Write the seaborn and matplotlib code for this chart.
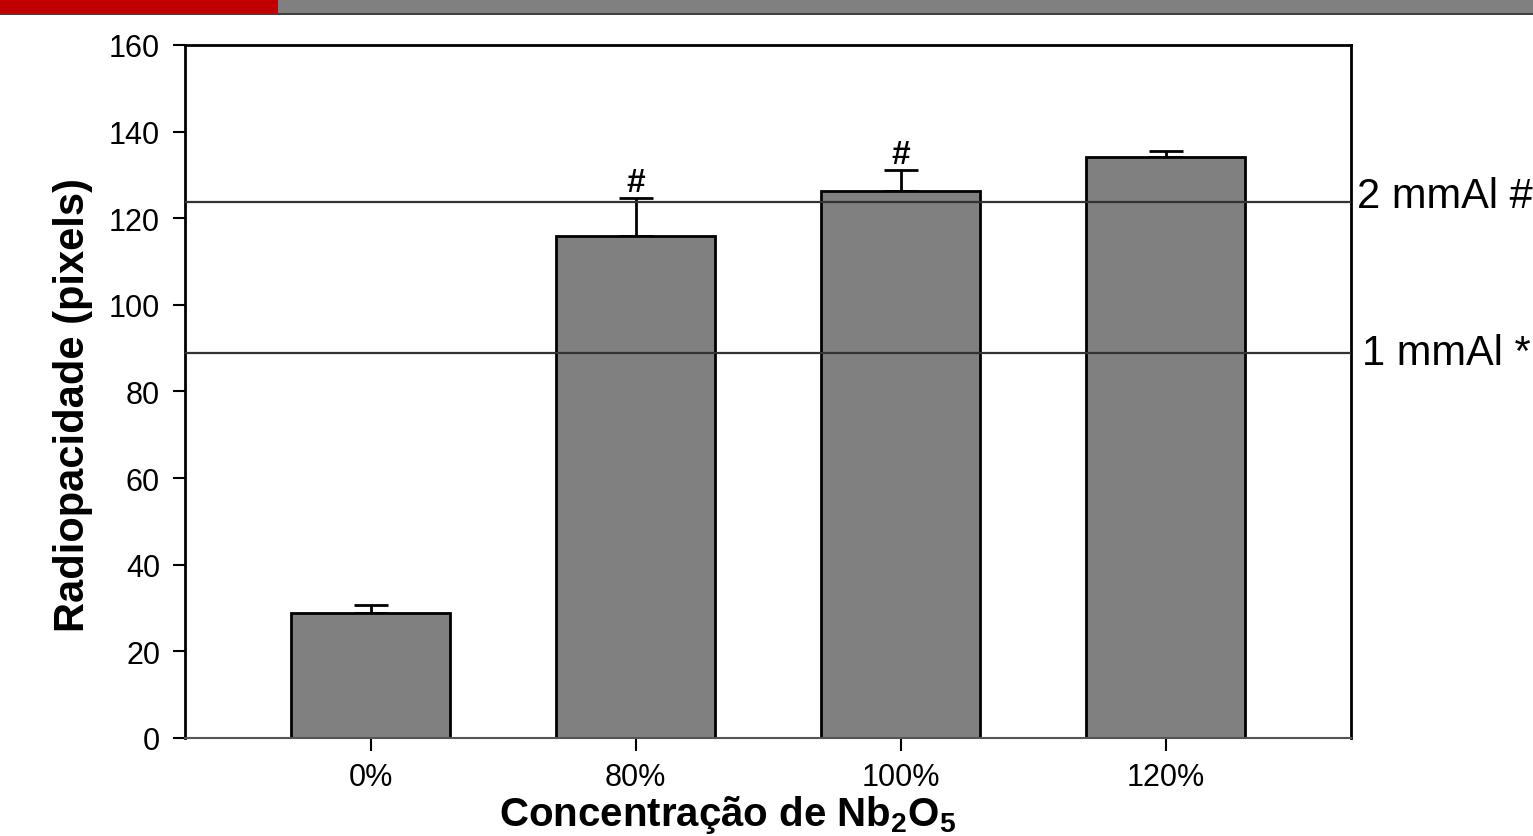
import numpy as np
import pandas as pd
import matplotlib
matplotlib.use('Agg')
import matplotlib.pyplot as plt
from matplotlib.patches import Rectangle
import matplotlib.transforms as mtransforms
import seaborn as sns

# dados
concentracoes = ['0%', '80%', '100%', '120%']
radiopacidade = [28.9, 115.9, 126.3, 134.2]
desvio = [1.8, 8.8, 4.9, 1.3]
marcas = ['', '#', '#', '']
ref_valores = [123.8, 88.9]
ref_nomes = ['2 mmAl #', '1 mmAl *']

sns.set_theme(style='white')
plt.rcParams['font.family'] = ['Liberation Sans', 'DejaVu Sans']
plt.rcParams['mathtext.fontset'] = 'custom'
plt.rcParams['mathtext.rm'] = 'Liberation Sans'
plt.rcParams['mathtext.bf'] = 'Liberation Sans:bold'
plt.rcParams['text.color'] = 'black'
plt.rcParams['axes.labelcolor'] = 'black'
plt.rcParams['xtick.color'] = 'black'
plt.rcParams['ytick.color'] = 'black'

df = pd.DataFrame({'conc': concentracoes, 'rad': radiopacidade})

fig = plt.figure(figsize=(15.33, 8.37), dpi=100)
ax = fig.add_axes([0.1207, 0.1171, 0.7606, 0.8280])

# faixa decorativa no topo
fig.patches.append(Rectangle((0, 1 - 14/837), 278/1533, 14/837, transform=fig.transFigure,
                             facecolor='#C00000', edgecolor='none', zorder=0))
fig.patches.append(Rectangle((278/1533, 1 - 14/837), 1 - 278/1533, 14/837, transform=fig.transFigure,
                             facecolor='#808080', edgecolor='none', zorder=0))
fig.patches.append(Rectangle((0, 1 - 16/837), 1, 2/837, transform=fig.transFigure,
                             facecolor='#404040', edgecolor='none', zorder=0))

sns.barplot(data=df, x='conc', y='rad', color='#808080', saturation=1, width=0.6,
            edgecolor='black', linewidth=2, errorbar=None, ax=ax, zorder=2)

xs = np.arange(len(concentracoes))
ax.errorbar(xs, radiopacidade, yerr=[np.zeros(len(desvio)), desvio], fmt='none',
            ecolor='black', elinewidth=2, capsize=12, capthick=2, zorder=1)

for x, v, d, m in zip(xs, radiopacidade, desvio, marcas):
    if m:
        ax.annotate(m, xy=(x, v + d), xytext=(0, 0), textcoords='offset points',
                    ha='center', va='bottom', fontsize=24, fontweight='bold')

trans = mtransforms.blended_transform_factory(ax.transAxes, ax.transData)
for v, nome, dx in zip(ref_valores, ref_nomes, [4, 8]):
    ax.axhline(v, color='#333333', lw=1.6, zorder=3)
    ax.annotate(nome, xy=(1.0, v), xycoords=trans, xytext=(dx, 4 if '2' in nome else 0),
                textcoords='offset points', ha='left', va='center', fontsize=30,
                annotation_clip=False)

ax.set_xlim(-0.7, 3.7)
ax.set_ylim(0, 160)
ax.set_yticks(range(0, 161, 20))
ax.tick_params(axis='y', direction='out', length=9, width=1.5, labelsize=22, pad=9,
               left=True)
ax.tick_params(axis='x', direction='out', length=9, width=1.5, labelsize=22, pad=8,
               bottom=True)

for s in ['left', 'top', 'right']:
    ax.spines[s].set_color('black')
    ax.spines[s].set_linewidth(2)
ax.spines['bottom'].set_color('#555555')
ax.spines['bottom'].set_linewidth(1.5)

ax.set_ylabel('Radiopacidade (pixels)', fontsize=30, fontweight='bold')
ax.set_xlabel('Concentração de Nb$_\\mathbf{2}$O$_\\mathbf{5}$', fontsize=29,
              fontweight='bold')
ax.yaxis.set_label_coords(-0.079, 0.482)
ax.xaxis.set_label_coords(0.465, -0.079)
ax.xaxis.label.set_va('top')

fig.savefig('out.png', dpi=100)
